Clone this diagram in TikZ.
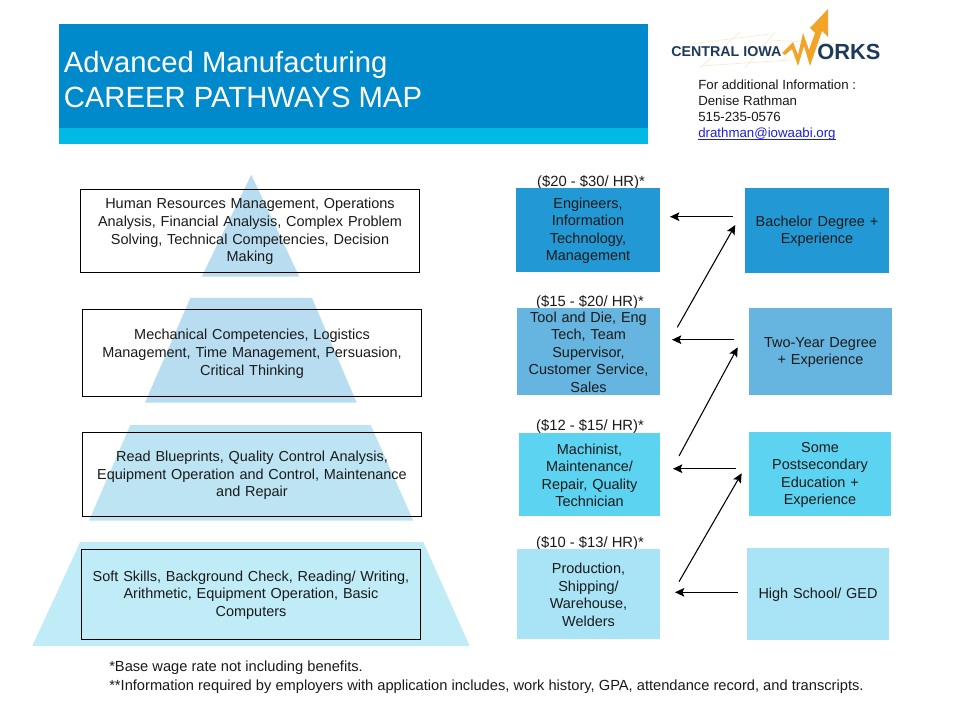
\documentclass[tikz,border=0pt]{standalone}
\usepackage{fontspec}
\setmainfont{Liberation Sans}
\usetikzlibrary{arrows.meta}
\definecolor{hdrDark}{HTML}{0089CB}
\definecolor{hdrLight}{HTML}{00B9E4}
\definecolor{tierA}{HTML}{2299D5}
\definecolor{tierB}{HTML}{65B5E0}
\definecolor{tierC}{HTML}{5CD3F0}
\definecolor{tierD}{HTML}{A8E4F6}
\definecolor{pyrA}{HTML}{B9DDF0}
\definecolor{pyrB}{HTML}{B8DDF0}
\definecolor{pyrC}{HTML}{BDE4F3}
\definecolor{pyrD}{HTML}{C0ECF8}
\definecolor{inkText}{HTML}{1A1A1A}
\definecolor{navyLogo}{HTML}{1D3A5A}
\definecolor{orangeLogo}{HTML}{F2A428}
\definecolor{gridLogo}{HTML}{F3ECD2}
\definecolor{linkBlue}{HTML}{1F1FD8}
\tikzset{
  x=0.75pt,y=-0.75pt,
  body/.style={font=\fontsize{10.85pt}{13.15pt}\selectfont,text=inkText,align=center,inner sep=0pt},
  skillbox/.style={body,draw=black,line width=0.75pt,text width=250pt},
  jobbox/.style={body,text width=104pt},
  wage/.style={body,font=\fontsize{11.1pt}{13.15pt}\selectfont},
  arrowline/.style={draw=black,line width=0.8pt,-{Stealth[length=7pt,width=6.5pt,inset=1.4pt]}},
  foot/.style={font=\fontsize{11pt}{14pt}\selectfont,anchor=base west,inner sep=0pt,text=inkText},
  contact/.style={font=\fontsize{9.95pt}{12pt}\selectfont,anchor=base west,inner sep=0pt,text=inkText},
  titletext/.style={font=\fontsize{21.95pt}{26pt}\selectfont,anchor=base west,inner sep=0pt,text=white},
  grid line/.style={draw=gridLogo,line width=0.5pt},
}
\newcommand{\tier}[7]{%
  \node[#1,minimum width=#4*0.75pt,minimum height=#5*0.75pt,fill=#6] (#2) at (#3) {\rule{0pt}{9pt}#7};}
\begin{document}
\begin{tikzpicture}
\useasboundingbox (0,0) rectangle (960,720);
\fill[white] (0,0) rectangle (960,720);
% header
\fill[hdrDark] (59,24) rectangle (648,128);
\fill[hdrLight] (59,128) rectangle (648,144);
\node[titletext] (titleA) at (63.5,72.5) {Advanced Manufacturing};
\node[titletext] (titleB) at (63.5,107.5) {CAREER PATHWAYS MAP};
% logo
\draw[grid line] (690,44) -- (770,34) (700,66) -- (790,60) (740,32) -- (700,68) (775,32) -- (745,68) (770,40)--(840,44);
\node[font=\bfseries\fontsize{10.7pt}{12pt}\selectfont,text=navyLogo,inner sep=0pt,anchor=west] (logoA) at (671,51.5) {CENTRAL IOWA};
\node[font=\bfseries\fontsize{16.4pt}{18pt}\selectfont,text=navyLogo,inner sep=0pt,anchor=west] (logoB) at (817,51.5) {ORKS};
\fill[orangeLogo] (782,53) -- (793,42) -- (798,55) -- (803,33) -- (809,50) -- (815,33) -- (810,28) -- (828,9) -- (828,37) -- (822,31) -- (810,66) -- (804,46) -- (798,66) -- (792,49) -- (785,55) -- cycle;
% contact
\node[contact] (infoA) at (698,90) {For additional Information :};
\node[contact] (infoB) at (698,106) {Denise Rathman};
\node[contact] (infoC) at (698,122) {515-235-0576};
\node[contact,text=linkBlue] (infoD) at (698,138) {drathman@iowaabi.org};
\draw[linkBlue,line width=0.6pt] ([yshift=-1pt]infoD.base west) -- ([yshift=-1pt]infoD.base east);
% pyramid
\fill[pyrA] (251.3,174.7) -- (299.3,276.7) -- (201.7,276.7) -- cycle;
\fill[pyrB] (190.3,298) -- (312,298) -- (356.7,402.7) -- (145,402.7) -- cycle;
\fill[pyrC] (130.3,425) -- (370.7,425) -- (413.3,520.7) -- (89,520.7) -- cycle;
\fill[pyrD] (80.3,542) -- (423.3,542) -- (469.7,646) -- (32.3,646) -- cycle;
% skill boxes
\tier{skillbox}{skillA}{250,230.8}{339.4}{83}{none}{Human Resources Management, Operations\\Analysis, Financial Analysis, Complex Problem\\Solving, Technical Competencies, Decision\\Making}
\tier{skillbox}{skillB}{252,353}{339.4}{87.4}{none}{Mechanical Competencies, Logistics\\Management, Time Management, Persuasion,\\Critical Thinking}
\tier{skillbox}{skillC}{252,474.5}{339.4}{84.4}{none}{Read Blueprints, Quality Control Analysis,\\Equipment Operation and Control, Maintenance\\and Repair}
\tier{skillbox}{skillD}{251,594.3}{339.4}{90}{none}{Soft Skills, Background Check, Reading/ Writing,\\Arithmetic, Equipment Operation, Basic\\Computers}
% wage labels
\node[wage] (wageA) at (591,182.5) {(\$20 - \$30/ HR)*};
\node[wage] (wageB) at (590,302.5) {(\$15 - \$20/ HR)*};
\node[wage] (wageC) at (590,426.5) {(\$12 - \$15/ HR)*};
\node[wage] (wageD) at (590,543.5) {(\$10 - \$13/ HR)*};
% job boxes
\tier{jobbox}{jobA}{588,230}{144}{84}{tierA}{Engineers,\\Information\\Technology,\\Management}
\tier{jobbox}{jobB}{588.5,351.5}{143}{87}{tierB}{Tool and Die, Eng\\Tech, Team\\Supervisor,\\Customer Service,\\Sales}
\tier{jobbox}{jobC}{589.5,474.5}{141}{83}{tierC}{Machinist,\\Maintenance/\\Repair, Quality\\Technician}
\tier{jobbox}{jobD}{588.5,594}{143}{90}{tierD}{Production,\\Shipping/\\Warehouse,\\Welders}
% education boxes
\tier{jobbox}{eduA}{817,230.3}{144}{84.6}{tierA}{Bachelor Degree +\\Experience}
\tier{jobbox}{eduB}{820.5,351.5}{143}{87}{tierB}{Two-Year Degree\\+ Experience}
\tier{jobbox}{eduC}{820,474}{142}{84}{tierC}{Some\\Postsecondary\\Education +\\Experience}
\tier{jobbox}{eduD}{818,594}{142}{92}{tierD}{High School/ GED}
% connector ends
\coordinate (hAfrom) at (732.7,216.7); \coordinate (hAto) at (670,216.7);
\coordinate (hBfrom) at (734.3,339.7); \coordinate (hBto) at (672,339.7);
\coordinate (hCfrom) at (735.7,468.7); \coordinate (hCto) at (673,468.7);
\coordinate (hDfrom) at (737.7,592.3); \coordinate (hDto) at (675,592.3);
\coordinate (dAfrom) at (677.3,327.3); \coordinate (dAto) at (735.3,225);
\coordinate (dBfrom) at (679,456); \coordinate (dBto) at (737.7,347.3);
\coordinate (dCfrom) at (679,581.7); \coordinate (dCto) at (741.7,473.3);
\draw[arrowline] (hAfrom) -- (hAto);
\draw[arrowline] (hBfrom) -- (hBto);
\draw[arrowline] (hCfrom) -- (hCto);
\draw[arrowline] (hDfrom) -- (hDto);
\draw[arrowline] (dAfrom) -- (dAto);
\draw[arrowline] (dBfrom) -- (dBto);
\draw[arrowline] (dCfrom) -- (dCto);
% footnotes
\node[foot] (footA) at (109,671) {*Base wage rate not including benefits.};
\node[foot] (footB) at (109,690) {**Information required by employers with application includes, work history, GPA, attendance record, and transcripts.};
\end{tikzpicture}
\end{document}
